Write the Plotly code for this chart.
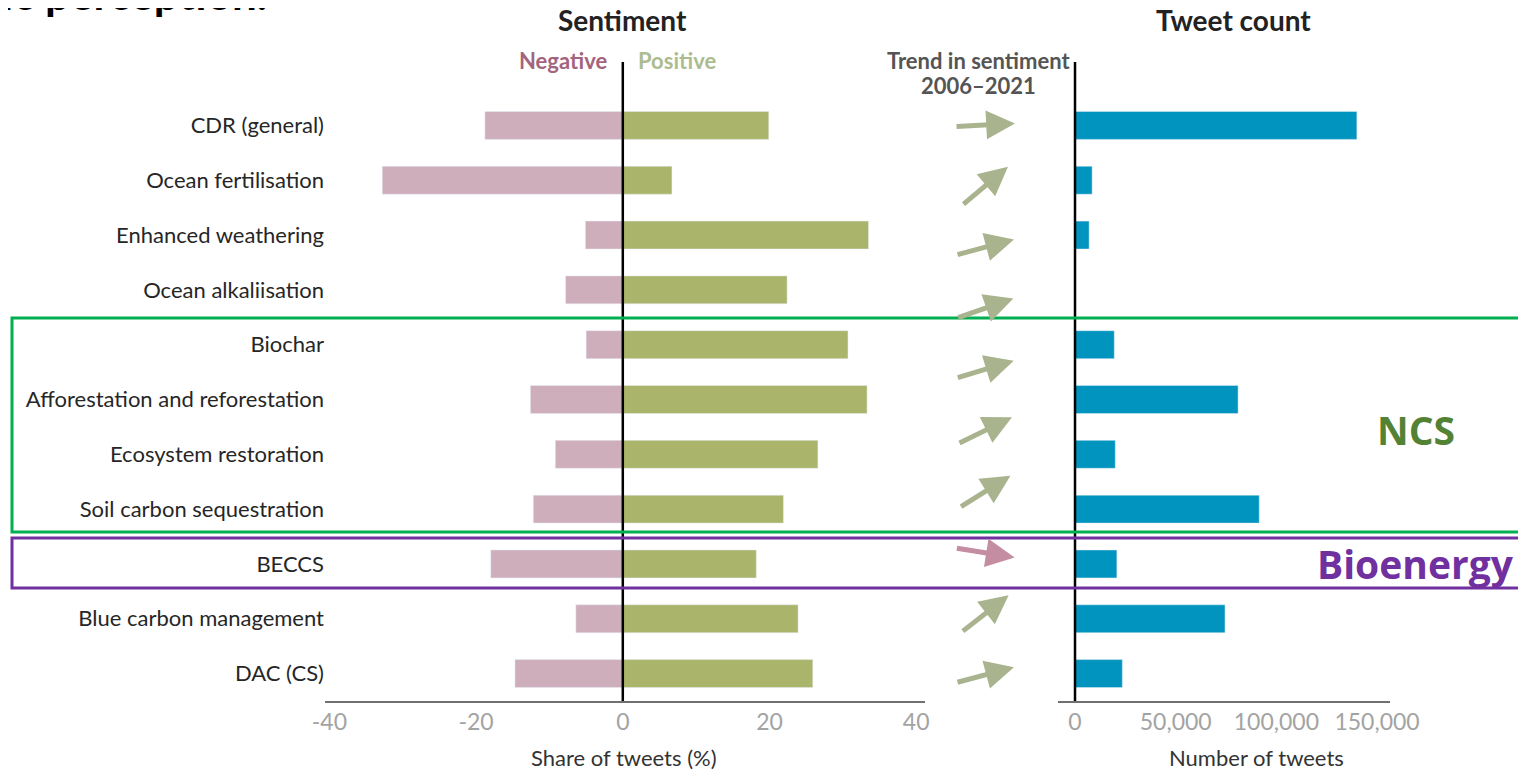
import math
import plotly.graph_objects as go

# ---------------- data ----------------
categories = ["CDR (general)", "Ocean fertilisation", "Enhanced weathering", "Ocean alkaliisation",
              "Biochar", "Afforestation and reforestation", "Ecosystem restoration",
              "Soil carbon sequestration", "BECCS", "Blue carbon management", "DAC (CS)"]
negative_share = [-18.8, -32.8, -5.1, -7.8, -5.0, -12.6, -9.2, -12.2, -18.0, -6.4, -14.7]
positive_share = [19.9, 6.7, 33.5, 22.4, 30.7, 33.3, 26.6, 21.9, 18.2, 23.9, 25.9]
tweet_count = [140000, 8500, 7000, 0, 19500, 81000, 20000, 91500, 20800, 74500, 23500]

# trend arrows (angle of trend arrow in degrees, one per arrow row as drawn)
trend_angle = [3, 40, 15, 19, 17, 26, 32, -9, 38, 15]

share_ticks = [-40, -20, 0, 20, 40]
share_ticktext = ["-40", "-20", "0", "20", "40"]
count_ticks = [0, 50000, 100000, 150000]

# ---------------- styling / layout ----------------
W, H = 1526, 772
OFF = 8          # page body margin: figure is drawn 8 px right/down of the window corner
T, B = 98, 701   # plot area top / bottom in window px

NEG = "#cfaebb"
POS = "#aab46b"
BLUE = "#0094bf"
ARROW_POS = "#a9b48e"
ARROW_NEG = "#c58da2"
FONT = "Lato, 'Open Sans', sans-serif"


def px(x):
    return (x - OFF) / W


def py(y):
    return (B - y) / (B - T)


fig = go.Figure()

fig.add_trace(go.Bar(y=categories, x=negative_share, orientation="h", marker_color=NEG,
                     width=0.51, xaxis="x", yaxis="y", showlegend=False))
fig.add_trace(go.Bar(y=categories, x=positive_share, orientation="h", marker_color=POS,
                     width=0.51, xaxis="x", yaxis="y", showlegend=False))
fig.add_trace(go.Bar(y=categories, x=tweet_count, orientation="h", marker_color=BLUE,
                     width=0.51, xaxis="x2", yaxis="y2", showlegend=False))

n = len(categories)
yrange = [n - 0.5, -0.5]

axis_common = dict(showgrid=False, zeroline=False, showline=True, linecolor="#707070",
                   linewidth=1.5, ticks="", automargin=False,
                   tickfont=dict(family=FONT, size=23, color="#a3a3a3"),
                   fixedrange=True)

# arrow axis: 1 unit = 1 px in x; rows evenly spaced
ax_x0, ax_x1 = 930, 1040
row_px = 61.1
first_row_px = 125
nrows = len(trend_angle)
y3_top = -(first_row_px - T) / row_px
y3_bot = (nrows - 1) + (B - (first_row_px + (nrows - 1) * row_px)) / row_px

fig.update_layout(
    width=W, height=H,
    margin=dict(l=0, r=0, t=T - OFF, b=H - (B - OFF), autoexpand=False),
    paper_bgcolor="white", plot_bgcolor="white",
    barmode="overlay",
    font=dict(family=FONT, color="#222222"),
    xaxis=dict(domain=[px(325), px(925)], range=[-40.6, 41.2], tickvals=share_ticks,
               ticktext=share_ticktext, anchor="y", **axis_common),
    yaxis=dict(domain=[0, 1], range=yrange, anchor="x", showgrid=False, zeroline=False,
               showline=False, ticks="", categoryorder="array", categoryarray=categories,
               automargin=False,
               tickfont=dict(family=FONT, size=22, color="#262626"), fixedrange=True),
    xaxis2=dict(domain=[px(1058), px(1390)], range=[-8450, 156450], tickvals=count_ticks,
                tickformat=",d", anchor="y2", **axis_common),
    yaxis2=dict(domain=[0, 1], range=yrange, anchor="x2", showgrid=False, zeroline=False,
                showline=False, showticklabels=False, ticks="", categoryorder="array",
                categoryarray=categories, fixedrange=True, automargin=False),
    xaxis3=dict(domain=[px(ax_x0), px(ax_x1)], range=[0, ax_x1 - ax_x0], visible=False, anchor="y3"),
    yaxis3=dict(domain=[0, 1], range=[y3_bot, y3_top], visible=False, anchor="x3"),
)

# trend arrows
L = 60
xc = 985 - ax_x0
for i, ang in enumerate(trend_angle):
    th = math.radians(ang)
    tip_x = xc + (L / 2) * math.cos(th)
    tip_y = i - (L / 2) * math.sin(th) / row_px
    fig.add_annotation(x=tip_x, y=tip_y, xref="x3", yref="y3", text="", showarrow=True,
                       ax=-L * math.cos(th), ay=L * math.sin(th),
                       arrowhead=2, arrowsize=1.15, arrowwidth=5,
                       arrowcolor=ARROW_POS if ang >= 0 else ARROW_NEG)

# zero lines extending into the header
fig.add_shape(type="line", xref="x", yref="paper", x0=0, x1=0, y0=0, y1=py(62),
              line=dict(color="black", width=2.5))
fig.add_shape(type="line", xref="x2", yref="paper", x0=0, x1=0, y0=0, y1=py(62),
              line=dict(color="black", width=2.5))

# highlight boxes
fig.add_shape(type="rect", xref="paper", yref="paper", x0=px(12), x1=px(1560), y0=py(532), y1=py(318),
              line=dict(color="#00b050", width=3), fillcolor="rgba(0,0,0,0)")
fig.add_shape(type="rect", xref="paper", yref="paper", x0=px(12), x1=px(1560), y0=py(588), y1=py(538),
              line=dict(color="#7030a0", width=3), fillcolor="rgba(0,0,0,0)")


def label(text, x, y, size, color, xanchor="center", bold=False, family=FONT):
    fig.add_annotation(text=f"<b>{text}</b>" if bold else text, x=px(x), y=py(y),
                       xref="paper", yref="paper", xanchor=xanchor, yanchor="middle",
                       showarrow=False, font=dict(family=family, size=size, color=color))


label("Sentiment", 622, 20, 28, "#222222", bold=True)
label("Tweet count", 1233, 20, 28, "#222222", bold=True)
label("Negative", 609, 60, 22, "#a3647d", xanchor="right", bold=True)
label("Positive", 636, 60, 22, "#adbc90", xanchor="left", bold=True)
label("Trend in sentiment", 978, 60, 22, "#555555", bold=True)
label("2006\u20132021", 978, 85, 22, "#555555", bold=True)
label("Share of tweets (%)", 624, 758, 22, "#333333")
label("Number of tweets", 1256, 758, 22, "#333333")
label("NCS", 1416, 430, 39, "#548235", bold=True, family="'Open Sans', sans-serif")
label("Bioenergy", 1516, 563, 39, "#7030a0", xanchor="right", bold=True, family="'Open Sans', sans-serif")
label("ic perception.", 0, -7, 44, "#000000", xanchor="left", bold=True)

fig.write_html("out.html")
